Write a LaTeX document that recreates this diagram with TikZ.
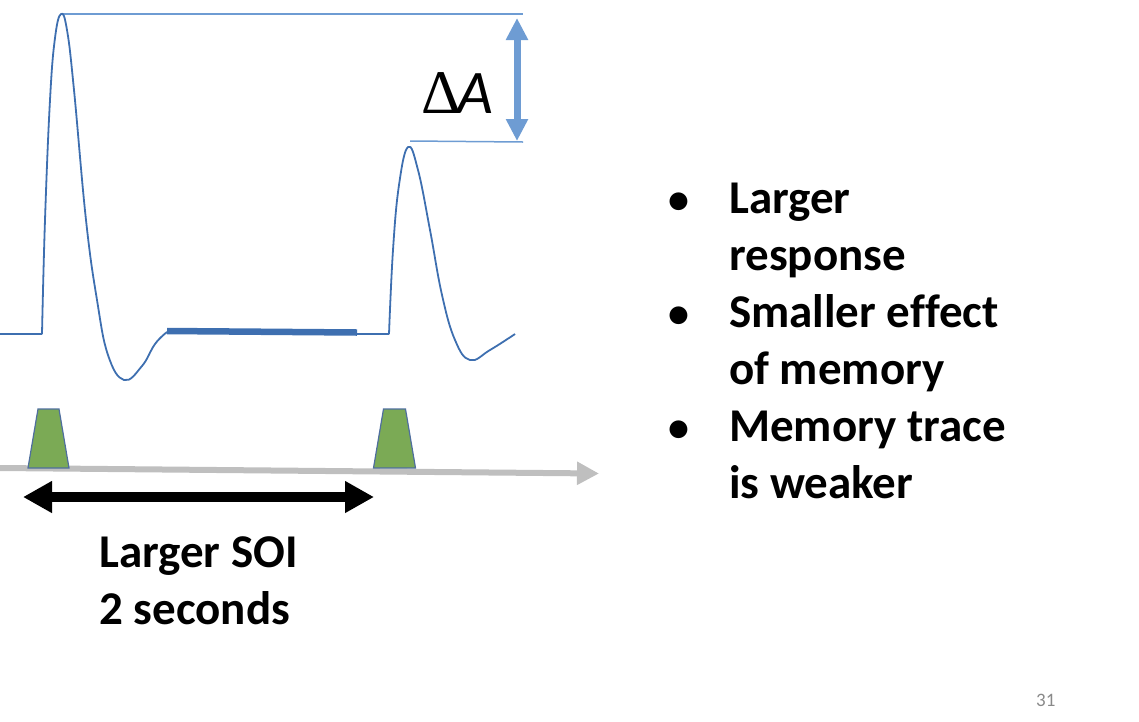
\documentclass[tikz,border=0pt]{standalone}
\usepackage{fontspec}
\setmainfont[Ligatures=NoCommon]{Carlito}
\newfontfamily\deltafont{Liberation Serif}
\usetikzlibrary{arrows.meta}
\definecolor{trace}{HTML}{3E6FB0}
\definecolor{refblue}{HTML}{6E9CD3}
\definecolor{stimgreen}{HTML}{7BAA55}
\definecolor{stimedge}{HTML}{4F6E9E}
\definecolor{axisgray}{HTML}{BFBFBF}
\definecolor{pagegray}{HTML}{898989}
\tikzset{
  tracestyle/.style={draw=trace, line width=1.8pt, line join=round},
  refline/.style={draw=refblue, line width=1.5pt},
  stim/.style={fill=stimgreen, draw=stimedge, line width=1.2pt},
  txt/.style={font=\fontsize{47}{57}\selectfont\bfseries, inner sep=0pt, anchor=base west},
  bul/.style={font=\fontsize{42}{57}\selectfont\bfseries, inner sep=0pt, anchor=base west},
}
\begin{document}
\begin{tikzpicture}[x=1pt,y=-1pt]
\useasboundingbox (0,0) rectangle (1139,721);
% reference lines
\coordinate (peak1) at (62,14);
\coordinate (peak2) at (410,141);
\coordinate (refend1) at (523,14);
\coordinate (refend2) at (523,142);
\draw[refline] (peak1) -- (refend1);
\draw[refline] (peak2) -- (refend2);
% delta A arrow
\coordinate (datop) at (517,18);
\coordinate (dabot) at (517,141);
\draw[draw=refblue, line width=7pt, {Triangle[length=22pt,width=21pt]}-{Triangle[length=22pt,width=21pt]}] (datop) -- (dabot);
\node[inner sep=0pt, anchor=base west] (dA) at (421,113) {{\deltafont\fontsize{62}{62}\selectfont Δ}\kern-4pt{\fontsize{62}{62}\selectfont\itshape A}};
% waveform
\draw[tracestyle] (0,334) -- (42,334)
  plot[smooth, tension=0.7] coordinates {(42,334) (45,220) (50,100) (55,38) (61,14) (67,30) (74,90) (86,220) (97,300) (108,355) (124,380) (142,366) (155,344) (167,332)};
\draw[draw=trace, line width=6.5pt] (167,331) -- (357,332.5);
\draw[tracestyle] (357,334) -- (389,334)
  plot[smooth, tension=0.7] coordinates {(389,334) (393,250) (399,185) (408,147) (418,170) (430,230) (442,295) (455,340) (470,360) (490,350) (515,334)};
% time axis
\coordinate (axstart) at (0,468);
\coordinate (axend) at (599,473.5);
\draw[draw=axisgray, line width=6pt, -{Triangle[length=22pt,width=22pt]}] (axstart) -- (axend);
% stimuli
\draw[stim] (38,409) -- (59,409) -- (69,468) -- (28,468) -- cycle;
\draw[stim] (383.5,409) -- (405.5,409) -- (415.5,468) -- (373.5,468) -- cycle;
% SOI arrow
\coordinate (soiL) at (23,497);
\coordinate (soiR) at (374,497);
\draw[line width=10pt, {Triangle[length=29pt,width=30pt]}-{Triangle[length=29pt,width=30pt]}] (soiL) -- (soiR);
\node[txt] (soi1) at (99,567) {Larger SOI};
\node[txt] (soi2) at (99,624) {2 seconds};
% bullets
\node[bul] (b1) at (668,213) {•};
\node[bul] (b2) at (668,327) {•};
\node[bul] (b3) at (668,441) {•};
\node[txt] (t1) at (729,213) {Larger};
\node[txt] (t2) at (729,270) {response};
\node[txt] (t3) at (729,327) {Smaller effect};
\node[txt] (t4) at (729,384) {of memory};
\node[txt] (t5) at (729,441) {Memory trace};
\node[txt] (t6) at (729,498) {is weaker};
% page number
\node[inner sep=0pt, anchor=base west, font=\fontsize{19}{20}\selectfont, text=pagegray] (pg) at (1036,706) {31};
\end{tikzpicture}
\end{document}
